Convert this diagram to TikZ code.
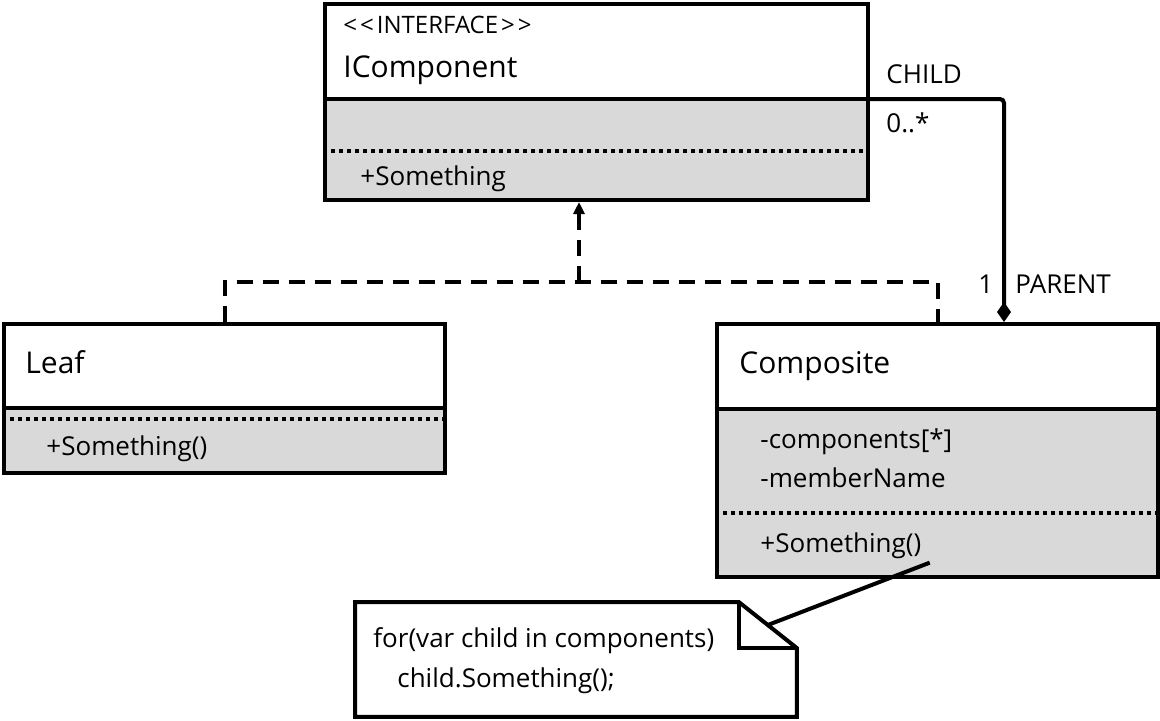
\documentclass[tikz,border=0pt]{standalone}
\usepackage{fontspec}
\setmainfont{Open Sans}
\usetikzlibrary{arrows.meta, calc, positioning, backgrounds}
\definecolor{umlgray}{HTML}{D9D9D9}
\newcommand{\clsfont}{\fontsize{15}{18}\selectfont}
\newcommand{\mbrfont}{\fontsize{13}{15}\selectfont}
\newcommand{\stfont}{\fontsize{12}{14}\selectfont}

\begin{document}
\begin{tikzpicture}[x=0.5pt,y=-0.5pt,
    classbox/.style={draw,line width=2pt,anchor=north west,inner sep=0pt},
    txt/.style={anchor=base west,inner sep=0pt,font=\mbrfont},
    dotsep/.style={line width=2pt,dash pattern=on 2pt off 2pt},
    realize/.style={line width=2pt,dash pattern=on 8pt off 5pt},
    compose/.style={line width=2pt,rounded corners=2pt,-{Diamond[length=10pt,width=7pt]}}]
    \useasboundingbox (0,0) rectangle (1160,720);
    \node[classbox,minimum width=271.5pt,minimum height=98pt] (icomp) at (323,2) {};
    \node[classbox,minimum width=220.5pt,minimum height=74.5pt] (leaf) at (2,322) {};
    \node[classbox,minimum width=220.5pt,minimum height=126.5pt] (composite) at (715,322) {};
    \node[anchor=north west,inner sep=0pt,minimum width=220.5pt,minimum height=57pt] (note) at (355,602) {};
    \begin{scope}[on background layer]
      \fill[umlgray] (icomp.west |- 0,99) rectangle (icomp.south east);
      \fill[umlgray] (leaf.west |- 0,408) rectangle (leaf.south east);
      \fill[umlgray] (composite.west |- 0,409) rectangle (composite.south east);
    \end{scope}
    \draw[line width=2pt] (icomp.west |- 0,99) -- (icomp.east |- 0,99);
    \draw[dotsep] (icomp.west |- 0,151) -- (icomp.east |- 0,151);
    \draw[line width=2pt] (leaf.west |- 0,408) -- (leaf.east |- 0,408);
    \draw[dotsep] (leaf.west |- 0,419) -- (leaf.east |- 0,419);
    \draw[line width=2pt] (composite.west |- 0,409) -- (composite.east |- 0,409);
    \draw[dotsep] (composite.west |- 0,513) -- (composite.east |- 0,513);
    \draw[line width=2pt,fill=white] (note.north west) -- ($(note.north east)+(-29pt,0)$) -- ($(note.north east)+(0,-23pt)$) -- (note.south east) -- (note.south west) -- cycle;
    \draw[line width=2pt] ($(note.north east)+(-29pt,0)$) |- ($(note.north east)+(0,-23pt)$);
    \node[txt,font=\stfont] (stereo) at (343,33) {<\kern1.5pt<\kern1.5pt INTERFACE\kern1.5pt>\kern1.5pt>};
    \node[txt,font=\clsfont] (icompname) at (343,77) {IComponent};
    \node[txt] (icompop) at (360,185) {+Something};
    \node[txt,font=\clsfont] (leafname) at (25,373) {Leaf};
    \node[txt] (leafop) at (46,455) {+Something()};
    \node[txt,font=\clsfont] (compname) at (739,373) {Composite};
    \node[txt] (compattr) at (760,448) {-components[*]};
    \node[txt] (compmember) at (760,487) {-memberName};
    \node[txt] (compop) at (760,552) {+Something()};
    \node[txt] (notefor) at (373,647) {for(var child in components)};
    \node[txt] (notecall) at (397,687) {child.Something();};
    \coordinate (joint) at (579,282);
    \draw[realize] (leaf.north) |- (joint) -| (composite.north);
    \draw[realize,-{Triangle[length=6pt,width=5.5pt]}] (joint) -- (joint |- icomp.south);
    \draw[compose] (icomp.east |- 0,99) -| ([xshift=33.25pt]composite.north);
    \node[txt] (child) at (886,83) {CHILD};
    \node[txt] (childmult) at (886,132) {0..*};
    \node[txt] (parentmult) at (978,293) {1};
    \node[txt] (parent) at (1015,293) {PARENT};
    \draw[line width=2pt] ([xshift=4pt,yshift=-2pt]compop.south east) -- ($(note.north east)+(-14.5pt,-11.5pt)$);
\end{tikzpicture}
\end{document}
